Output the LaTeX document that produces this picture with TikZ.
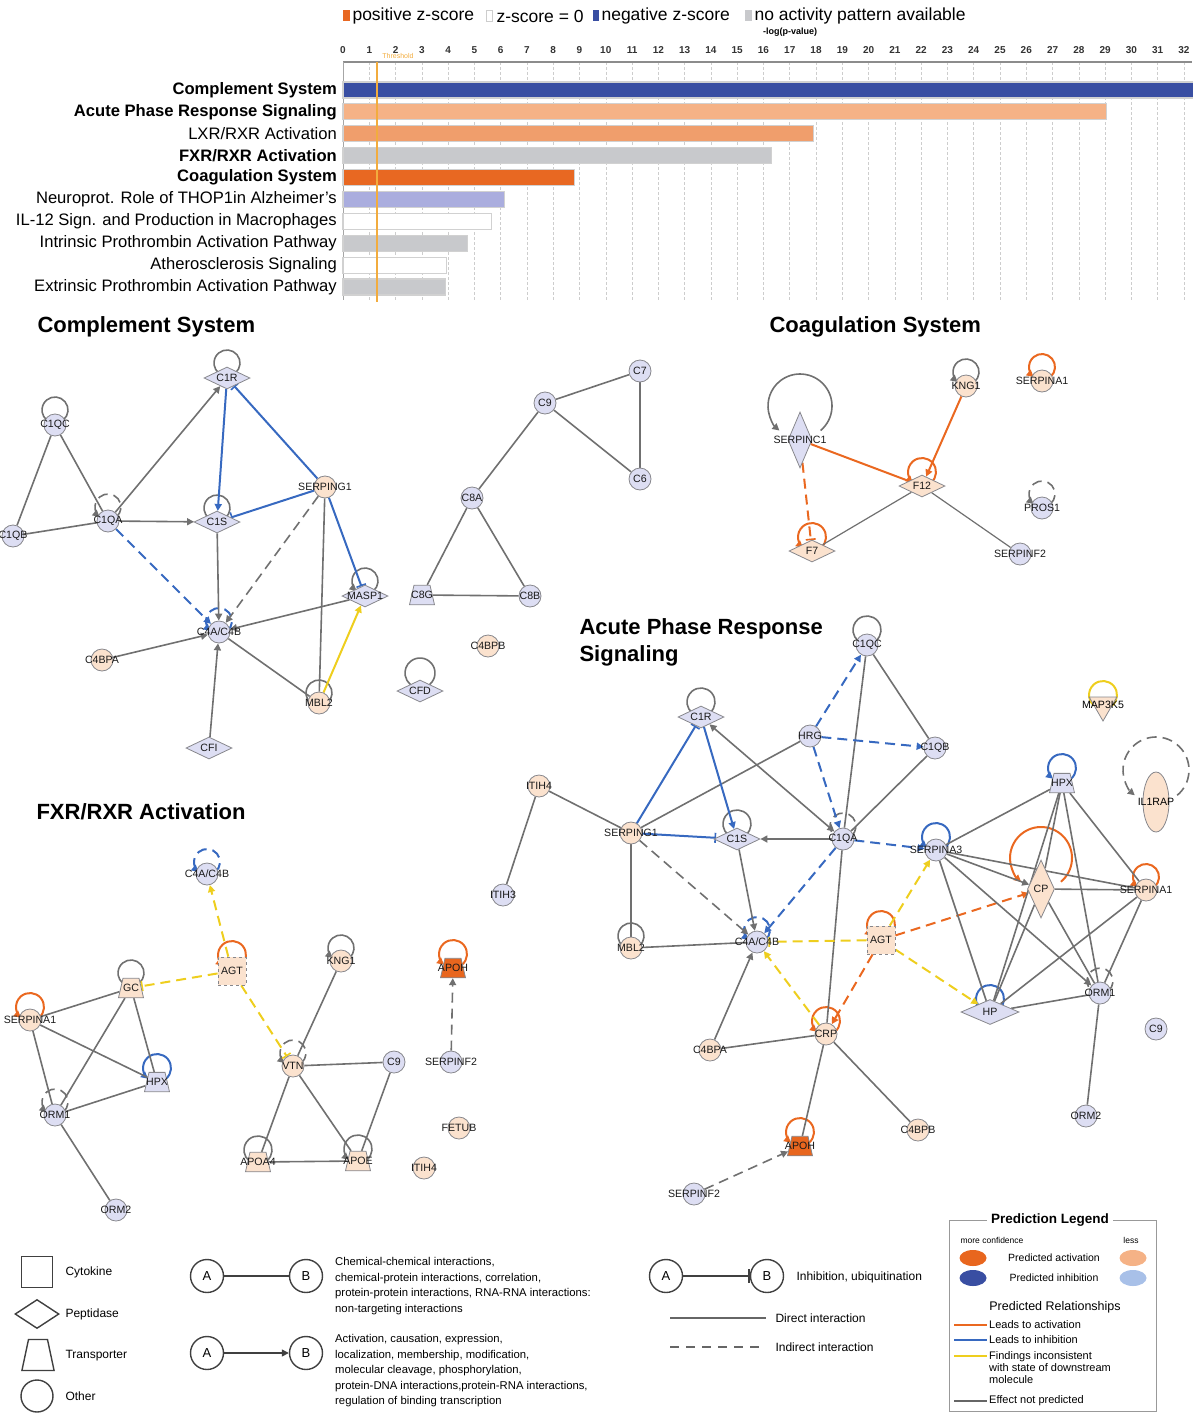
\documentclass[tikz,border=0pt]{standalone}
\usepackage{fontspec}
\setmainfont{Liberation Sans}
\usetikzlibrary{arrows.meta}
\usetikzlibrary{shapes.geometric}
\usetikzlibrary{calc}
\usetikzlibrary{backgrounds}
\tikzset{>={Triangle[length=7pt,width=7pt]}}
% node and edge colours
\definecolor{nodeblue}{RGB}{221,222,243}
\definecolor{nodeorg}{RGB}{251,226,206}
\definecolor{actorg}{RGB}{232,102,30}
\definecolor{nodeline}{RGB}{135,135,140}
\definecolor{edgegray}{RGB}{112,112,112}
\definecolor{edgeblue}{RGB}{55,105,192}
\definecolor{edgeorg}{RGB}{234,104,32}
\definecolor{edgeyel}{RGB}{238,206,30}
\definecolor{barblue}{RGB}{57,78,162}
\definecolor{barlorg}{RGB}{245,178,134}
\definecolor{barorg}{RGB}{240,158,108}
\definecolor{barcoag}{RGB}{232,104,34}
\definecolor{bargray}{RGB}{200,201,204}
\definecolor{barlav}{RGB}{170,173,222}
\definecolor{gridgray}{RGB}{205,205,205}
\definecolor{thrcol}{RGB}{242,172,62}
\definecolor{txtcol}{RGB}{25,25,25}
\definecolor{predlblue}{RGB}{168,192,232}
\newcommand{\lblfont}{\fontsize{10.6}{11}\selectfont}
\tikzstyle{oth}=[circle,draw=nodeline,line width=0.8pt,minimum size=22pt,inner sep=0pt,font=\lblfont,text=txtcol]
\tikzstyle{pep}=[diamond,draw=nodeline,line width=0.8pt,minimum width=46pt,minimum height=22pt,inner sep=0pt,font=\lblfont,text=txtcol]
\tikzstyle{tra}=[trapezium,draw=nodeline,line width=0.8pt,trapezium left angle=77,trapezium right angle=77,text width=16pt,align=center,inner xsep=0pt,inner ysep=6pt,font=\lblfont,text=txtcol]
\tikzstyle{cyt}=[rectangle,draw=nodeline,dashed,line width=0.8pt,minimum size=28pt,inner sep=0pt,font=\lblfont,text=txtcol]
\tikzstyle{lb}=[fill=nodeblue]
\tikzstyle{lo}=[fill=nodeorg]
\tikzstyle{ao}=[fill=actorg]
\tikzstyle{ge}=[draw=edgegray,line width=1.6pt]
\tikzstyle{be}=[draw=edgeblue,line width=2pt]
\tikzstyle{oe}=[draw=edgeorg,line width=2pt]
\tikzstyle{ye}=[draw=edgeyel,line width=2pt]
\tikzstyle{ind}=[dash pattern=on 10pt off 6pt]
\tikzstyle{inh}=[-{Bar[width=10pt,line width=1.6pt]}]
\tikzstyle{lgshape}=[draw=black!75,line width=1.4pt,fill=white,inner sep=0pt]
% gene node: name, position, style, label
\newcommand{\gene}[4]{\node[#3] (#1) at (#2) {\makebox[0pt]{#4}};}
% self loop: node, style, radius, lift of the centre
\newcommand{\selfloop}[4]{\draw[#2] ($(#1)+(0,-#4)+(50:#3)$) arc[start angle=50,end angle=-230,radius=#3];}
\begin{document}
\begin{tikzpicture}[x=1pt,y=-1pt]
  \useasboundingbox (0,0) rectangle (1192,1413);
  \def\xu{26.28} % pixels per -log(p)
  \def\xo{343}   % axis origin

  % ---------- bar chart ----------
  \fill[barcoag] (343,10.5) rectangle (350,21.5);
  \node[anchor=west,font=\fontsize{17.5}{19}\selectfont] (kpos) at (349,16) {positive z-score};
  \draw[gridgray,fill=white] (486,10.5) rectangle (492,21.5);
  \node[anchor=west,font=\fontsize{17.5}{19}\selectfont] (kzero) at (493,16) {z-score = 0};
  \fill[barblue] (593,10.5) rectangle (599,21.5);
  \node[anchor=west,font=\fontsize{17.5}{19}\selectfont] (kneg) at (598,16) {negative z-score};
  \fill[bargray] (745,10.5) rectangle (752,21.5);
  \node[anchor=west,font=\fontsize{17.5}{19}\selectfont] (knone) at (751,16) {no activity pattern available};
  \node[font=\fontsize{9}{10}\bfseries] (xlab) at (790,32) {-log(p-value)};

  \foreach \k in {1,...,32}
    \draw[gridgray,densely dashed,line width=0.6pt] (\xo+\xu*\k,62) -- (\xo+\xu*\k,300);
  \foreach \k in {0,...,32}
    \node[font=\fontsize{10}{11}\bfseries,text=black!80] (tick\k) at (\xo+\xu*\k,50) {\k};
  \draw[black!45,line width=1.3pt] (\xo,62) -- (1192,62);
  \draw[black!35,line width=0.8pt] (\xo,62) -- (\xo,300);

  \foreach \v/\c [count=\i] in {32.4/barblue,29.05/barlorg,17.9/barorg,16.3/bargray,8.8/barcoag,
      6.15/barlav,5.65/white,4.75/bargray,3.95/white,3.9/bargray}
    \draw[black!18,fill=\c,line width=1.2pt] (\xo,68+21.9*\i-8) rectangle (\xo+\xu*\v,68+21.9*\i+8);
  \foreach \t [count=\i] in {{\bfseries Complement System},{\bfseries Acute Phase Response Signaling},
      LXR/RXR Activation,{\bfseries FXR/RXR Activation},{\bfseries Coagulation System},
      Neuroprot. Role of THOP1in Alzheimer's,IL-12 Sign. and Production in Macrophages,
      Intrinsic Prothrombin Activation Pathway,Atherosclerosis Signaling,Extrinsic Prothrombin Activation Pathway}
    \node[anchor=east,font=\fontsize{16.6}{18}\selectfont,inner sep=0pt] (bar\i) at (337,68+21.9*\i) {\t};

  \draw[thrcol,line width=1.2pt] (377,62) -- (377,302);
  \node[text=thrcol,font=\fontsize{7}{8}\selectfont] (thr) at (398,56) {Threshold};

  % ---------- titles ----------
  \node[anchor=west,font=\fontsize{22}{24}\bfseries] (tcomp) at (34,327) {Complement System};
  \node[anchor=west,font=\fontsize{22}{24}\bfseries] (tcoag) at (766,327) {Coagulation System};
  \node[anchor=west,font=\fontsize{22}{24}\bfseries] (tfxr) at (33,812) {FXR/RXR Activation};
  \node[anchor=west,font=\fontsize{22}{27}\bfseries,align=left] (tapr) at (576,642) {Acute Phase Response\\Signaling};

  % ---------- complement system ----------
  \gene{cC1R}{227,378}{pep,lb}{C1R}
  \gene{cC1QC}{55,425}{oth,lb}{C1QC}
  \gene{cC1QB}{13,536}{oth,lb}{C1QB}
  \gene{cC1QA}{108,521}{oth,lb}{C1QA}
  \gene{cC1S}{217,522}{pep,lb}{C1S}
  \gene{cSERPING1}{325,487}{oth,lo}{SERPING1}
  \gene{cMASP1}{365,596}{pep,lb}{MASP1}
  \gene{cC4}{219,632}{oth,lb}{C4A/C4B}
  \gene{cC4BPA}{102,660}{oth,lo}{C4BPA}
  \gene{cMBL2}{319,703}{oth,lo}{MBL2}
  \gene{cCFI}{209,748}{pep,lb}{CFI}
  \gene{cC9}{545,403}{oth,lb}{C9}
  \gene{cC7}{640,371}{oth,lb}{C7}
  \gene{cC6}{640,479}{oth,lb}{C6}
  \gene{cC8A}{472,498}{oth,lb}{C8A}
  \gene{cC8G}{422,595}{tra,lb}{C8G}
  \gene{cC8B}{530,596}{oth,lb}{C8B}
  \gene{cC4BPB}{488,646}{oth,lo}{C4BPB}
  \gene{cCFD}{420,691}{pep,lb}{CFD}
  \begin{pgfonlayer}{background}
    \selfloop{cC1R}{ge}{13}{15}
    \selfloop{cC1QC}{ge}{13}{15}
    \selfloop{cC1QA}{ge,ind,->}{13}{14}
    \selfloop{cC1S}{ge}{13}{14}
    \selfloop{cC4}{be,ind,->}{13}{11}
    \selfloop{cMASP1}{ge,->}{13}{15}
    \selfloop{cMBL2}{ge}{13}{10}
    \selfloop{cCFD}{ge}{15}{18}
    \draw[ge] (cC1QC) -- (cC1QB);
    \draw[ge] (cC1QC) -- (cC1QA);
    \draw[ge] (cC1QB) -- (cC1QA);
    \draw[ge,->] (cC1QA) -- (cC1R);
    \draw[ge,->] (cC1QA) -- (cC1S);
    \draw[be,ind,->] (cC1QA) -- (cC4);
    \draw[be,->] (cC1R) -- (cC1S);
    \draw[be,inh] (cSERPING1) -- (cC1R);
    \draw[be,inh] (cSERPING1) -- (cC1S);
    \draw[be,inh] (cSERPING1) -- (cMASP1);
    \draw[ge,ind,->] (cSERPING1) -- (cC4);
    \draw[ge] (cSERPING1) -- (cMBL2);
    \draw[ge,->] (cC1S) -- (cC4);
    \draw[ge,->] (cMASP1) -- (cC4);
    \draw[ye,->] (cMBL2) -- (cMASP1);
    \draw[ge] (cMBL2) -- (cC4);
    \draw[ge,->] (cC4BPA) -- (cC4);
    \draw[ge,->] (cCFI) -- (cC4);
    \draw[ge] (cC9) -- (cC7);
    \draw[ge] (cC9) -- (cC6);
    \draw[ge] (cC7) -- (cC6);
    \draw[ge] (cC9) -- (cC8A);
    \draw[ge] (cC8A) -- (cC8G);
    \draw[ge] (cC8A) -- (cC8B);
    \draw[ge] (cC8G) -- (cC8B);
  \end{pgfonlayer}

  % ---------- coagulation system ----------
  \gene{gSERPINC1}{800,440}{pep,lb,minimum width=24pt,minimum height=56pt}{SERPINC1}
  \gene{gKNG1}{966,386}{oth,lo}{KNG1}
  \gene{gSERPINA1}{1042,381}{oth,lo}{SERPINA1}
  \gene{gF12}{922,486}{pep,lo}{F12}
  \gene{gF7}{812,551}{pep,lo}{F7}
  \gene{gPROS1}{1042,508}{oth,lb}{PROS1}
  \gene{gSERPINF2}{1020,554}{oth,lb}{SERPINF2}
  \begin{pgfonlayer}{background}
    \selfloop{gSERPINC1}{ge,->}{32}{34}
    \selfloop{gKNG1}{ge,->}{13}{14}
    \selfloop{gSERPINA1}{oe,->}{13}{14}
    \selfloop{gF12}{oe,->}{14}{14}
    \selfloop{gF7}{oe,->}{14}{14}
    \selfloop{gPROS1}{ge,ind,->}{13}{14}
    \draw[oe,inh] (gSERPINC1) -- (gF12);
    \draw[oe,->] (gKNG1) -- (gF12);
    \draw[oe,ind,inh] (gSERPINC1) -- (gF7);
    \draw[ge,line width=1.2pt] (gF12) -- (gF7);
    \draw[ge,line width=1.2pt] (gF12) -- (gSERPINF2);
  \end{pgfonlayer}

  % ---------- FXR/RXR activation ----------
  \gene{fC4}{207,874}{oth,lb}{C4A/C4B}
  \gene{fAGT}{232,971}{cyt,lo}{AGT}
  \gene{fGC}{131,988}{tra,lo}{GC}
  \gene{fSERPINA1}{30,1020}{oth,lo}{SERPINA1}
  \gene{fHPX}{157,1082}{tra,lb}{HPX}
  \gene{fORM1}{55,1115}{oth,lb}{ORM1}
  \gene{fORM2}{116,1210}{oth,lb}{ORM2}
  \gene{fKNG1}{341,961}{oth,lo}{KNG1}
  \gene{fVTN}{293,1066}{oth,lo}{VTN}
  \gene{fC9}{394,1062}{oth,lb}{C9}
  \gene{fAPOA4}{258,1162}{tra,lo}{APOA4}
  \gene{fAPOE}{358,1161}{tra,lo}{APOE}
  \gene{fAPOH}{453,968}{tra,ao}{APOH}
  \gene{fSERPINF2}{451,1062}{oth,lb}{SERPINF2}
  \gene{fFETUB}{459,1128}{oth,lo}{FETUB}
  \gene{fITIH4}{424,1168}{oth,lo}{ITIH4}
  \begin{pgfonlayer}{background}
    \selfloop{fC4}{be,ind,->}{13}{12}
    \selfloop{fAGT}{oe,->}{14}{16}
    \selfloop{fGC}{ge}{13}{15}
    \selfloop{fSERPINA1}{oe,->}{14}{13}
    \selfloop{fHPX}{be,->}{14}{14}
    \selfloop{fORM1}{ge,ind,->}{13}{13}
    \selfloop{fKNG1}{ge,->}{13}{13}
    \selfloop{fVTN}{ge,ind,->}{13}{13}
    \selfloop{fAPOA4}{ge}{14}{12}
    \selfloop{fAPOE}{ge,->}{14}{12}
    \selfloop{fAPOH}{oe,->}{14}{14}
    \draw[ye,ind,->] (fAGT) -- (fC4);
    \draw[ye,ind,inh] (fAGT) -- (fGC);
    \draw[ye,ind,inh] (fAGT) -- (fVTN);
    \draw[ge] (fGC) -- (fSERPINA1);
    \draw[ge] (fGC) -- (fORM1);
    \draw[ge] (fGC) -- (fHPX);
    \draw[ge] (fSERPINA1) -- (fHPX);
    \draw[ge] (fSERPINA1) -- (fORM1);
    \draw[ge] (fORM1) -- (fHPX);
    \draw[ge] (fORM1) -- (fORM2);
    \draw[ge] (fKNG1) -- (fVTN);
    \draw[ge] (fVTN) -- (fC9);
    \draw[ge] (fVTN) -- (fAPOA4);
    \draw[ge] (fVTN) -- (fAPOE);
    \draw[ge] (fC9) -- (fAPOE);
    \draw[ge] (fAPOA4) -- (fAPOE);
    \draw[ge,ind,->] (fSERPINF2) -- (fAPOH);
  \end{pgfonlayer}

  % ---------- acute phase response signaling ----------
  \gene{aC1QC}{867,645}{oth,lb}{C1QC}
  \gene{aC1R}{701,717}{pep,lb}{C1R}
  \gene{aHRG}{810,736}{oth,lb}{HRG}
  \gene{aC1QB}{935,748}{oth,lb}{C1QB}
  \gene{aITIH4}{539,786}{oth,lo}{ITIH4}
  \gene{aITIH3}{503,895}{oth,lb}{ITIH3}
  \gene{aSERPING1}{631,833}{oth,lo}{SERPING1}
  \gene{aC1S}{737,839}{pep,lb}{C1S}
  \gene{aC1QA}{843,839}{oth,lb}{C1QA}
  \gene{aSERPINA3}{936,850}{oth,lb}{SERPINA3}
  \gene{aHPX}{1062,783}{tra,lb}{HPX}
  \gene{aIL1RAP}{1156,802}{ellipse,draw=nodeline,line width=0.8pt,lo,minimum width=26pt,minimum height=60pt,inner sep=0pt,font=\lblfont}{IL1RAP}
  \gene{aMAP3K5}{1103,705}{regular polygon,regular polygon sides=3,shape border rotate=180,draw=nodeline,line width=0.8pt,lo,minimum size=32pt,inner sep=0pt,font=\lblfont}{MAP3K5}
  \gene{aCP}{1041,889}{pep,lo,minimum width=27pt,minimum height=58pt}{CP}
  \gene{aSERPINA1}{1146,890}{oth,lo}{SERPINA1}
  \gene{aMBL2}{631,948}{oth,lo}{MBL2}
  \gene{aC4}{757,942}{oth,lb}{C4A/C4B}
  \gene{aAGT}{881,940}{cyt,lo}{AGT}
  \gene{aHP}{990,1012}{pep,lb,minimum width=58pt,minimum height=25pt}{HP}
  \gene{aORM1}{1100,993}{oth,lb}{ORM1}
  \gene{aC9}{1156,1029}{oth,lb}{C9}
  \gene{aCRP}{826,1034}{oth,lo}{CRP}
  \gene{aC4BPA}{710,1050}{oth,lo}{C4BPA}
  \gene{aAPOH}{800,1146}{tra,ao}{APOH}
  \gene{aC4BPB}{918,1130}{oth,lo}{C4BPB}
  \gene{aORM2}{1086,1116}{oth,lb}{ORM2}
  \gene{aSERPINF2}{694,1194}{oth,lb}{SERPINF2}
  \begin{pgfonlayer}{background}
    \selfloop{aC1QC}{ge}{14}{15}
    \selfloop{aC1R}{ge}{14}{15}
    \selfloop{aC1S}{ge}{14}{15}
    \selfloop{aC1QA}{ge,ind}{13}{13}
    \selfloop{aSERPINA3}{be,->}{14}{13}
    \selfloop{aHPX}{be,->}{14}{15}
    \selfloop{aIL1RAP}{ge,ind,->}{33}{32}
    \selfloop{aMAP3K5}{ye}{14}{10}
    \selfloop{aCP}{oe,->}{31}{31}
    \selfloop{aSERPINA1}{oe,->}{13}{13}
    \selfloop{aMBL2}{ge}{13}{12}
    \selfloop{aC4}{be,ind,->}{13}{12}
    \selfloop{aAGT}{oe,->}{14}{15}
    \selfloop{aHP}{be,->}{14}{13}
    \selfloop{aORM1}{ge,ind}{13}{12}
    \selfloop{aCRP}{oe,->}{14}{13}
    \selfloop{aAPOH}{oe,->}{14}{14}
    \draw[ge] (aC1QC) -- (aC1QB);
    \draw[ge] (aC1QC) -- (aC1QA);
    \draw[ge] (aC1QA) -- (aCRP);
    \draw[be,ind,->] (aHRG) -- (aC1QC);
    \draw[be,ind,->] (aHRG) -- (aC1QB);
    \draw[be,ind,->] (aHRG) -- (aC1QA);
    \draw[ge] (aHRG) -- (aSERPING1);
    \draw[be,inh] (aSERPING1) -- (aC1R);
    \draw[be,->] (aC1R) -- (aC1S);
    \draw[be,inh] (aSERPING1) -- (aC1S);
    \draw[ge,ind,->] (aSERPING1) -- (aC4);
    \draw[ge] (aSERPING1) -- (aITIH4);
    \draw[ge] (aSERPING1) -- (aMBL2);
    \draw[ge] (aITIH4) -- (aITIH3);
    \draw[ge,<->] (aC1R) -- (aC1QA);
    \draw[ge,->] (aC1QA) -- (aC1S);
    \draw[be,ind,->] (aC1QA) -- (aSERPINA3);
    \draw[be,ind,->] (aC1QA) -- (aC4);
    \draw[ge] (aC1QB) -- (aC1QA);
    \draw[ge,->] (aC1S) -- (aC4);
    \draw[ge] (aMBL2) -- (aC4);
    \draw[ye,ind,inh] (aAGT) -- (aC4);
    \draw[ye,ind,->] (aAGT) -- (aSERPINA3);
    \draw[ye,ind,->] (aAGT) -- (aHP);
    \draw[oe,ind,->] (aAGT) -- (aCP);
    \draw[oe,ind,->] (aAGT) -- (aCRP);
    \draw[ye,ind,->] (aCRP) -- (aC4);
    \draw[ge,->] (aC4BPA) -- (aC4);
    \draw[ge] (aC4BPA) -- (aCRP);
    \draw[ge] (aCRP) -- (aAPOH);
    \draw[ge] (aCRP) -- (aC4BPB);
    \draw[ge,ind,->] (aSERPINF2) -- (aAPOH);
    \draw[ge] (aSERPINA3) -- (aHPX);
    \draw[ge,->] (aSERPINA3) -- (aCP);
    \draw[ge] (aSERPINA3) -- (aSERPINA1);
    \draw[ge] (aSERPINA3) -- (aHP);
    \draw[ge,->] (aSERPINA3) -- (aORM1);
    \draw[ge] (aHPX) -- (aCP);
    \draw[ge] (aHPX) -- (aHP);
    \draw[ge] (aHPX) -- (aSERPINA1);
    \draw[ge] (aHPX) -- (aORM1);
    \draw[ge] (aCP) -- (aSERPINA1);
    \draw[ge] (aCP) -- (aHP);
    \draw[ge] (aCP) -- (aORM1);
    \draw[ge] (aSERPINA1) -- (aHP);
    \draw[ge] (aSERPINA1) -- (aORM1);
    \draw[ge] (aHP) -- (aORM1);
    \draw[ge] (aORM1) -- (aORM2);
  \end{pgfonlayer}

  % ---------- shape and edge legend ----------
  \node[lgshape,rectangle,minimum size=31pt] (lgcyt) at (37,1272) {};
  \node[lgshape,diamond,minimum width=44pt,minimum height=29pt] (lgpep) at (37,1314) {};
  \node[lgshape,trapezium,trapezium left angle=78,trapezium right angle=78,text width=19pt,inner ysep=9.5pt] (lgtra) at (38,1355) {\strut};
  \node[lgshape,circle,minimum size=32pt] (lgoth) at (37,1396) {};
  \foreach \n/\t/\y in {cyt/Cytokine/1272,pep/Peptidase/1314,tra/Transporter/1356,oth/Other/1396}
    \node[anchor=west,font=\fontsize{12}{13}\selectfont] (lt\n) at (62,\y) {\t};

  \node[lgshape,circle,minimum size=33pt,font=\fontsize{13}{14}\selectfont] (lgA1) at (207,1276) {A};
  \node[lgshape,circle,minimum size=33pt,font=\fontsize{13}{14}\selectfont] (lgB1) at (306,1276) {B};
  \draw[black!75,line width=1.4pt] (lgA1) -- (lgB1);
  \node[lgshape,circle,minimum size=33pt,font=\fontsize{13}{14}\selectfont] (lgA2) at (207,1353) {A};
  \node[lgshape,circle,minimum size=33pt,font=\fontsize{13}{14}\selectfont] (lgB2) at (306,1353) {B};
  \draw[black!75,line width=1.4pt,->] (lgA2) -- (lgB2);
  \node[lgshape,circle,minimum size=33pt,font=\fontsize{13}{14}\selectfont] (lgA3) at (666,1276) {A};
  \node[lgshape,circle,minimum size=33pt,font=\fontsize{13}{14}\selectfont] (lgB3) at (767,1276) {B};
  \draw[black!75,line width=1.4pt,-{Bar[width=14pt,line width=1.6pt]}] (lgA3) -- (lgB3);

  \node[anchor=north west,align=left,inner sep=0pt,font=\fontsize{11.3}{15.6}\selectfont] (lgtxt1) at (335,1257)
    {Chemical-chemical interactions,\\chemical-protein interactions, correlation,\\
     protein-protein interactions, RNA-RNA interactions:\\non-targeting interactions};
  \node[anchor=north west,align=left,inner sep=0pt,font=\fontsize{11.3}{15.6}\selectfont] (lgtxt2) at (335,1334)
    {Activation, causation, expression,\\localization, membership, modification,\\
     molecular cleavage, phosphorylation,\\protein-DNA interactions,protein-RNA interactions,\\
     regulation of binding transcription};
  \node[anchor=west,font=\fontsize{12}{13}\selectfont] (lgtxt3) at (793,1277) {Inhibition, ubiquitination};

  \coordinate (d1) at (670,1318);
  \coordinate (d2) at (766,1318);
  \draw[black!60,line width=1.6pt] (d1) -- (d2);
  \node[anchor=west,font=\fontsize{12}{13}\selectfont] (lgdir) at (772,1318) {Direct interaction};
  \coordinate (i1) at (670,1347);
  \coordinate (i2) at (766,1347);
  \draw[black!60,line width=1.6pt,dash pattern=on 9pt off 7pt] (i1) -- (i2);
  \node[anchor=west,font=\fontsize{12}{13}\selectfont] (lgind) at (772,1347) {Indirect interaction};

  % ---------- prediction legend ----------
  \draw[black!40,line width=1pt] (949,1220) rectangle (1156,1411);
  \node[fill=white,inner xsep=4pt,font=\fontsize{13.5}{15}\bfseries] (plt) at (1050,1220) {Prediction Legend};
  \node[font=\fontsize{8.5}{9}\selectfont] (pmore) at (992,1240) {more confidence};
  \node[font=\fontsize{8.5}{9}\selectfont] (pless) at (1131,1240) {less};
  \node[ellipse,fill=actorg,minimum width=27pt,minimum height=16pt,inner sep=0pt] (pe1) at (973,1258) {};
  \node[ellipse,fill=barlorg,minimum width=27pt,minimum height=16pt,inner sep=0pt] (pe2) at (1133,1258) {};
  \node[ellipse,fill=barblue,minimum width=27pt,minimum height=16pt,inner sep=0pt] (pe3) at (973,1278) {};
  \node[ellipse,fill=predlblue,minimum width=27pt,minimum height=16pt,inner sep=0pt] (pe4) at (1133,1278) {};
  \node[font=\fontsize{10.5}{12}\selectfont] (pact) at (1054,1258) {Predicted activation};
  \node[font=\fontsize{10.5}{12}\selectfont] (pinh) at (1054,1278) {Predicted inhibition};
  \node[font=\fontsize{12.5}{14}\selectfont] (prel) at (1055,1307) {Predicted Relationships};
  \foreach \c/\y/\n in {edgeorg/1325/a,edgeblue/1340/b,edgeyel/1356/c,black!60/1401/d}{
    \coordinate (ps\n) at (954,\y);
    \coordinate (pt\n) at (987,\y);
    \draw[\c,line width=2.2pt] (ps\n) -- (pt\n);
  }
  \node[anchor=west,inner sep=2pt,font=\fontsize{11}{12}\selectfont] (pla) at (987,1325) {Leads to activation};
  \node[anchor=west,inner sep=2pt,font=\fontsize{11}{12}\selectfont] (plb) at (987,1340) {Leads to inhibition};
  \node[anchor=north west,inner sep=2pt,align=left,font=\fontsize{11}{12}\selectfont] (plc) at (987,1349) {Findings inconsistent\\with state of downstream\\molecule};
  \node[anchor=west,inner sep=2pt,font=\fontsize{11}{12}\selectfont] (pld) at (987,1401) {Effect not predicted};
\end{tikzpicture}
\end{document}
